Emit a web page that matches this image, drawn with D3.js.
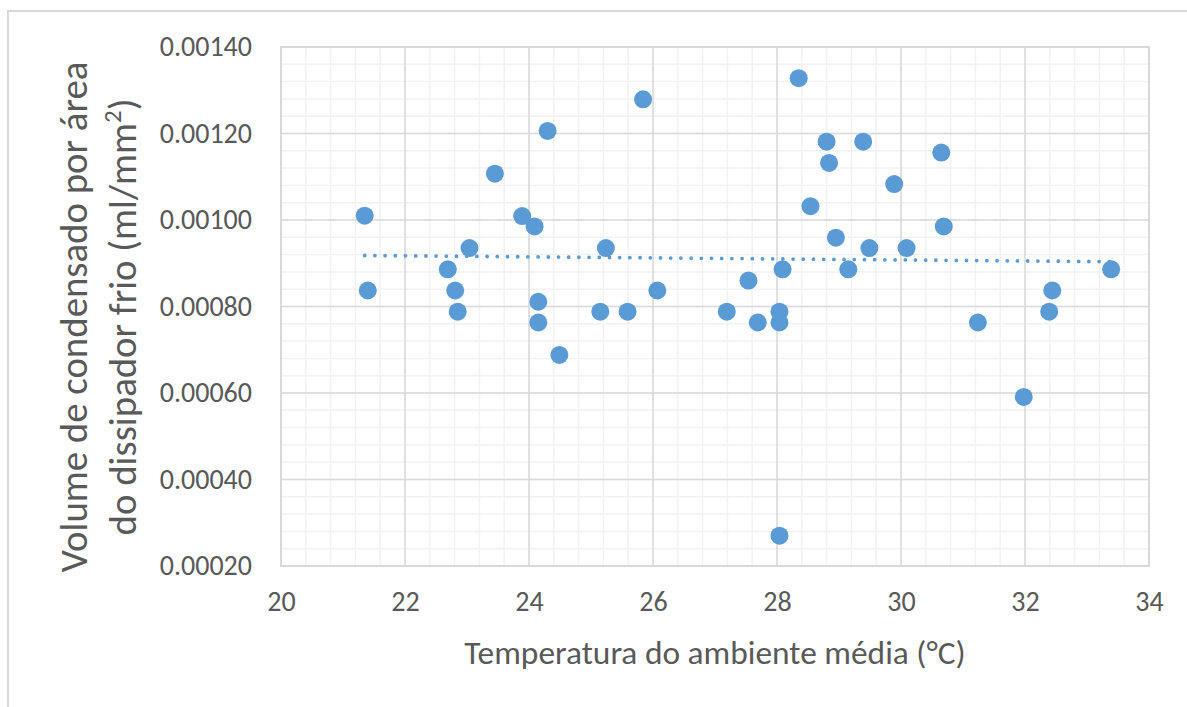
<!DOCTYPE html>
<html>
<head>
<meta charset="utf-8">
<script src="https://cdn.jsdelivr.net/npm/d3@7"></script>
<style>
  body { margin: 0; background: #fff; }
  svg text { font-family: Carlito, Calibri, Lato, sans-serif; fill: #595959; }
</style>
</head>
<body>
<figure style="margin:0"></figure>
<script>
// temperature (°C) of each measurement
const temps = [21.35, 21.40, 22.69, 22.81, 22.85, 23.04, 23.45, 23.89, 24.09, 24.15,
  24.15, 24.30, 24.49, 25.15, 25.24, 25.59, 25.84, 26.07, 27.19, 27.54,
  27.69, 28.04, 28.04, 28.04, 28.09, 28.35, 28.54, 28.80, 28.84, 28.95,
  29.15, 29.39, 29.49, 29.89, 30.09, 30.65, 30.69, 31.24, 31.98, 32.39,
  32.44, 33.39];
// condensate volume per area (ml/mm2)
const volumes = [0.001010, 0.000837, 0.000886, 0.000837, 0.000788, 0.000935, 0.001107, 0.001009, 0.000985, 0.000811,
  0.000763, 0.001206, 0.000688, 0.000788, 0.000935, 0.000788, 0.001279, 0.000837, 0.000788, 0.000860,
  0.000763, 0.000788, 0.000763, 0.000270, 0.000886, 0.001328, 0.001032, 0.001181, 0.001132, 0.000959,
  0.000886, 0.001181, 0.000935, 0.001083, 0.000935, 0.001156, 0.000985, 0.000763, 0.000591, 0.000788,
  0.000837, 0.000886];
const xTicks = [20, 22, 24, 26, 28, 30, 32, 34];
const yTicks = [0.0002, 0.0004, 0.0006, 0.0008, 0.0010, 0.0012, 0.0014];

function buildScatter() {
    const width = 1187, height = 707;
    const left = 281, right = 1149, top = 47, bottom = 566;

    const svg = d3.select("figure")
        .append("svg")
        .attr("width", width)
        .attr("height", height);

    // chart area border (runs off the right and bottom of the picture)
    svg.append("rect")
        .attr("x", 8).attr("y", 11)
        .attr("width", 1300).attr("height", 800)
        .attr("fill", "#fff")
        .attr("stroke", "#d9d9d9")
        .attr("stroke-width", 2);

    const data = temps.map((t, i) => ({x: t, y: volumes[i]}));

    const xScale = d3.scaleLinear().domain([20, 34]).range([left, right]);
    const yScale = d3.scaleLinear().domain([0.0002, 0.0014]).range([bottom, top]);

    // minor gridlines
    const xMinor = d3.range(20, 34.001, 0.4);
    const yMinor = d3.range(0.0002, 0.0014001, 0.00004);
    svg.append("g").selectAll("line").data(xMinor).enter().append("line")
        .attr("x1", d => xScale(d)).attr("x2", d => xScale(d))
        .attr("y1", top).attr("y2", bottom)
        .attr("stroke", "#f2f2f2").attr("stroke-width", 1.5);
    svg.append("g").selectAll("line").data(yMinor).enter().append("line")
        .attr("y1", d => yScale(d)).attr("y2", d => yScale(d))
        .attr("x1", left).attr("x2", right)
        .attr("stroke", "#f2f2f2").attr("stroke-width", 1.5);

    // major gridlines
    svg.append("g").selectAll("line").data(xTicks).enter().append("line")
        .attr("x1", d => xScale(d)).attr("x2", d => xScale(d))
        .attr("y1", top).attr("y2", bottom)
        .attr("stroke", "#d9d9d9").attr("stroke-width", 1.5);
    svg.append("g").selectAll("line").data(yTicks).enter().append("line")
        .attr("y1", d => yScale(d)).attr("y2", d => yScale(d))
        .attr("x1", left).attr("x2", right)
        .attr("stroke", "#d9d9d9").attr("stroke-width", 1.5);

    // axes: labels only, lines drawn by the grid
    const xAxis = svg.append("g")
        .attr("transform", "translate(0," + bottom + ")")
        .call(d3.axisBottom(xScale).tickValues(xTicks).tickSize(0).tickPadding(25).tickFormat(d3.format("d")));
    const yAxis = svg.append("g")
        .attr("transform", "translate(" + left + ",0)")
        .call(d3.axisLeft(yScale).tickValues(yTicks).tickSize(0).tickPadding(29).tickFormat(d3.format(".5f")));
    [xAxis, yAxis].forEach(a => {
        a.select(".domain").remove();
        a.selectAll("text")
            .style("font-family", "Carlito, Calibri, Lato, sans-serif")
            .style("font-size", "28px")
            .attr("fill", "#595959");
    });
    xAxis.selectAll("text").attr("dy", "0.71em");

    // plot area border
    svg.append("rect")
        .attr("x", left).attr("y", top)
        .attr("width", right - left).attr("height", bottom - top)
        .attr("fill", "none")
        .attr("stroke", "#d9d9d9").attr("stroke-width", 2);

    // linear trendline (least squares)
    const mx = d3.mean(data, d => d.x), my = d3.mean(data, d => d.y);
    const slope = d3.sum(data, d => (d.x - mx) * (d.y - my)) / d3.sum(data, d => (d.x - mx) ** 2);
    const icpt = my - slope * mx;
    const [x0, x1] = d3.extent(data, d => d.x);
    svg.append("line")
        .attr("x1", xScale(x0)).attr("y1", yScale(icpt + slope * x0))
        .attr("x2", xScale(x1)).attr("y2", yScale(icpt + slope * x1))
        .attr("stroke", "#5b9bd5")
        .attr("stroke-width", 3.8)
        .attr("stroke-linecap", "round")
        .attr("stroke-dasharray", "0 10.2");

    // points
    svg.append("g").selectAll("circle")
        .data(data)
        .enter()
        .append("circle")
        .attr("cx", d => xScale(d.x))
        .attr("cy", d => yScale(d.y))
        .attr("r", 9)
        .attr("fill", "#5b9bd5");

    // axis titles
    svg.append("text")
        .attr("x", (left + right) / 2)
        .attr("y", 664)
        .attr("text-anchor", "middle")
        .style("font-size", "33.4px")
        .text("Temperatura do ambiente média (°C)");

    const yTitle = svg.append("g")
        .attr("transform", "translate(0,317) rotate(-90)")
        .attr("text-anchor", "middle")
        .style("font-size", "38.8px");
    yTitle.append("text").attr("x", 0).attr("y", 87).text("Volume de condensado por área");
    const l2 = yTitle.append("text").attr("x", 0).attr("y", 136);
    l2.append("tspan").text("do dissipador frio (ml/mm");
    l2.append("tspan").attr("baseline-shift", "super").style("font-size", "25px").text("2");
    l2.append("tspan").text(")");
}

buildScatter();
</script>
</body>
</html>
